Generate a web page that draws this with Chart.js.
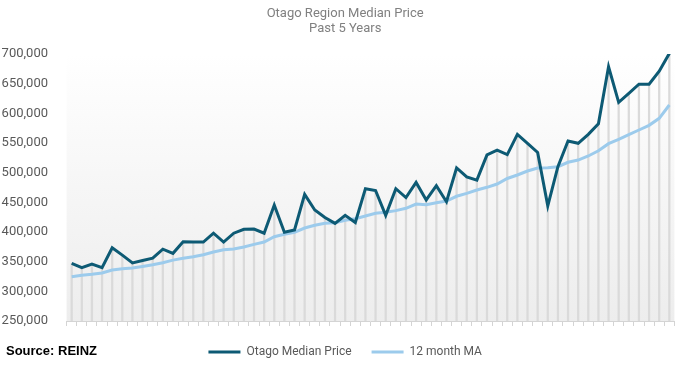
<!DOCTYPE html>
<html>
<head>
<meta charset="utf-8">
<script src="https://cdn.jsdelivr.net/npm/chart.js@4/dist/chart.umd.min.js"></script>
<style>
  html, body { margin: 0; padding: 0; background: #ffffff; }
  #wrap { position: relative; width: 686px; height: 368px; }
  #source { position: absolute; left: 6px; top: 343px; font: bold 13px "Liberation Sans", Arial, sans-serif; color: #000; }
</style>
</head>
<body>
<div id="wrap">
  <canvas id="c" width="686" height="368"></canvas>
  <div id="source">Source: REINZ</div>
</div>
<script>
const months = ["Dec-16","Jan-17","Feb-17","Mar-17","Apr-17","May-17","Jun-17","Jul-17","Aug-17","Sep-17","Oct-17","Nov-17","Dec-17",
  "Jan-18","Feb-18","Mar-18","Apr-18","May-18","Jun-18","Jul-18","Aug-18","Sep-18","Oct-18","Nov-18","Dec-18",
  "Jan-19","Feb-19","Mar-19","Apr-19","May-19","Jun-19","Jul-19","Aug-19","Sep-19","Oct-19","Nov-19","Dec-19",
  "Jan-20","Feb-20","Mar-20","Apr-20","May-20","Jun-20","Jul-20","Aug-20","Sep-20","Oct-20","Nov-20","Dec-20",
  "Jan-21","Feb-21","Mar-21","Apr-21","May-21","Jun-21","Jul-21","Aug-21","Sep-21","Oct-21","Nov-21"];

const medianPrice = [347000, 340000, 346000, 340000, 373500, 361000, 348000, 352000, 356000, 371000,
  364000, 383500, 383000, 383000, 398000, 383000, 398000, 404500, 405000, 398000,
  445500, 399500, 403500, 463500, 437000, 424500, 414500, 428000, 416000, 473000,
  470000, 428000, 473000, 458000, 483500, 454000, 478000, 451000, 508000, 493000,
  487500, 530000, 538000, 530500, 564500, 549500, 534000, 444000, 510000, 553500,
  549500, 564500, 582500, 678500, 618500, 633500, 649000, 649000, 671000, 701000];

const movingAvg = [324700, 327000, 328700, 330900, 336000, 338200, 339300, 342000, 344900, 348300,
  352600, 355600, 358400, 361800, 366300, 370200, 371300, 374700, 379200, 383100,
  392100, 396100, 399500, 406700, 411300, 414600, 415700, 419700, 422400, 427000,
  431500, 433200, 436000, 440000, 447200, 446000, 449400, 452200, 460200, 465200,
  470800, 475300, 480900, 490200, 496100, 502800, 507900, 508400, 510100, 517500,
  521300, 528100, 536800, 548900, 556200, 564000, 571900, 579800, 591600, 614000];

const yTicks = [250000, 300000, 350000, 400000, 450000, 500000, 550000, 600000, 650000, 700000];

const seriesNames = ["Otago Median Price", "12 month MA"];
const titleLines = ["Otago Region Median Price", "Past 5 Years"];

const plotBg = {
  id: 'plotBg',
  afterLayout(chart) {
    // nudge centred title/legend so they sit where the reference has them
    const dx = 8;
    [chart.legend, chart.titleBlock].forEach(b => { if (b) { b.left += dx; b.right += dx; } });
  },
  beforeDatasetsDraw(chart) {
    const {ctx, chartArea: a} = chart;
    const g = ctx.createLinearGradient(0, a.top, 0, a.bottom);
    g.addColorStop(0, '#ffffff');
    g.addColorStop(1, '#ededed');
    ctx.save();
    ctx.fillStyle = g;
    ctx.fillRect(a.left, a.top, a.right - a.left, a.bottom - a.top);
    ctx.restore();
  }
};

new Chart(document.getElementById('c'), {
  type: 'line',
  data: {
    labels: months,
    datasets: [
      {
        label: seriesNames[0],
        data: medianPrice,
        borderColor: '#0d5a74',
        backgroundColor: '#0d5a74',
        borderWidth: 3,
        pointRadius: 0,
        tension: 0,
        order: 1
      },
      {
        label: seriesNames[1],
        data: movingAvg,
        borderColor: '#9ccbec',
        backgroundColor: '#9ccbec',
        borderWidth: 3,
        pointRadius: 0,
        tension: 0,
        order: 2
      },
      {
        type: 'bar',
        label: 'drop',
        data: medianPrice,
        backgroundColor: '#dadada',
        barThickness: 1.6,
        order: 3
      }
    ]
  },
  options: {
    responsive: false,
    animation: false,
    layout: { padding: { left: 0, right: 11.6, top: 0, bottom: 0 } },
    plugins: {
      title: {
        display: true,
        text: titleLines,
        color: '#808080',
        font: { family: 'Roboto, "Liberation Sans", sans-serif', size: 13, weight: 'normal', lineHeight: 1.1 },
        padding: { top: 7, bottom: 18.4 }
      },
      legend: {
        position: 'bottom',
        labels: {
          filter: (item) => item.datasetIndex !== 2,
          usePointStyle: true,
          pointStyle: 'line',
          pointStyleWidth: 32,
          color: '#595959',
          font: { family: 'Roboto, "Liberation Sans", sans-serif', size: 12 },
          padding: 20
        }
      },
      tooltip: { enabled: false }
    },
    scales: {
      x: {
        type: 'category',
        offset: true,
        ticks: { display: false },
        grid: { display: true, offset: true, drawOnChartArea: false, drawTicks: true, tickLength: 5, color: '#d4d4d4' },
        border: { display: true, color: '#d4d4d4' }
      },
      y: {
        min: 250000,
        max: 700000,
        afterBuildTicks: (s) => { s.ticks = yTicks.map(v => ({ value: v })); },
        afterFit: (s) => { s.width = 66.6; },
        ticks: {
          color: '#595959',
          padding: 10.6,
          font: { family: 'Roboto, "Liberation Sans", sans-serif', size: 13 },
          callback: (v) => Number(v).toLocaleString('en-US')
        },
        grid: { display: false },
        border: { display: false }
      }
    }
  },
  plugins: [plotBg]
});
</script>
</body>
</html>
